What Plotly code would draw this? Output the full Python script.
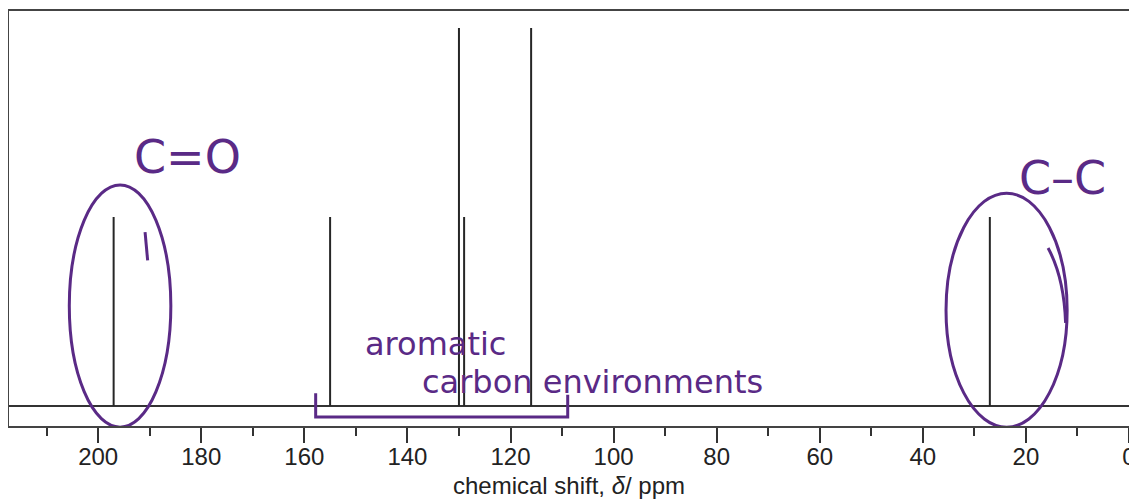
import plotly.graph_objects as go

# ---- data ----
peak_shifts = [197, 155, 130, 129, 116, 27]          # ppm
peak_heights = [0.5, 0.5, 1.0, 0.5, 1.0, 0.5]         # relative intensity
major_ticks = [0, 20, 40, 60, 80, 100, 120, 140, 160, 180, 200]
tick_labels = [str(v) for v in major_ticks]
x_title = "chemical shift, <i>δ</i>/ ppm"
notes = ["C=O", "aromatic", "carbon environments", "C–C"]

# build stick spectrum from the peak lists
xs, ys = [], []
for s, h in zip(peak_shifts, peak_heights):
    xs += [s, s, None]
    ys += [0, h, None]

fig = go.Figure()
fig.add_trace(go.Scatter(x=xs, y=ys, mode="lines",
                         line=dict(color="#262626", width=2),
                         hoverinfo="skip", showlegend=False))

ink = "#5a2a86"
hand = "Comic Sans MS, DejaVu Sans, sans-serif"

def note(text, x, y, size):
    fig.add_annotation(x=x, xref="paper", y=y, yref="paper", text=text,
                       xanchor="center", yanchor="middle", showarrow=False,
                       font=dict(family=hand, size=size, color=ink))

# handwritten annotations
note(notes[0], 0.159, 0.648, 46)
note(notes[1], 0.381, 0.197, 32)
note(notes[2], 0.521, 0.105, 32)
note(notes[3], 0.941, 0.598, 46)

fig.add_shape(type="circle", xref="x", yref="y", x0=205.6, x1=185.9, y0=-0.056, y1=0.585,
              line=dict(color=ink, width=3))
fig.add_shape(type="path", xref="x", yref="y",
              path="M 190.9 0.46 L 190.4 0.385",
              line=dict(color=ink, width=3))
fig.add_shape(type="circle", xref="x", yref="y", x0=35.5, x1=12.0, y0=-0.056, y1=0.563,
              line=dict(color=ink, width=3))
fig.add_shape(type="path", xref="x", yref="y",
              path="M 15.7 0.418 Q 12.6 0.34 12.3 0.22",
              line=dict(color=ink, width=3))
fig.add_shape(type="path", xref="x", yref="y",
              path="M 157.8 0.034 L 157.8 -0.029 L 108.9 -0.029 L 108.9 0.03",
              line=dict(color=ink, width=3))

# page body has an 8px margin, so the figure is offset by 8px
fig.update_layout(
    width=1129, height=495,
    margin=dict(l=1, r=8, t=3, b=77),
    paper_bgcolor="white", plot_bgcolor="white",
    font=dict(family="Liberation Sans, Arial, sans-serif", color="#222222"),
)
fig.update_xaxes(
    range=[217.3, 0], automargin=False,
    tickmode="array", tickvals=major_ticks, ticktext=tick_labels,
    ticks="outside", ticklen=15, tickwidth=2, tickcolor="#333333",
    tickfont=dict(size=24, color="#222222"), ticklabelstandoff=-7,
    minor=dict(tickmode="linear", tick0=0, dtick=10, ticks="outside",
               ticklen=8, tickwidth=2, tickcolor="#333333"),
    showline=True, linecolor="#444444", linewidth=2, mirror=True,
    showgrid=False, zeroline=False,
    title=dict(text=x_title, font=dict(size=24, color="#222222"), standoff=8),
)
fig.update_yaxes(
    range=[-0.0529, 1.045], automargin=False,
    showticklabels=False, ticks="",
    showline=True, linecolor="#444444", linewidth=2, mirror=True,
    showgrid=False,
    zeroline=True, zerolinecolor="#333333", zerolinewidth=2,
)

fig.write_html("out.html")
